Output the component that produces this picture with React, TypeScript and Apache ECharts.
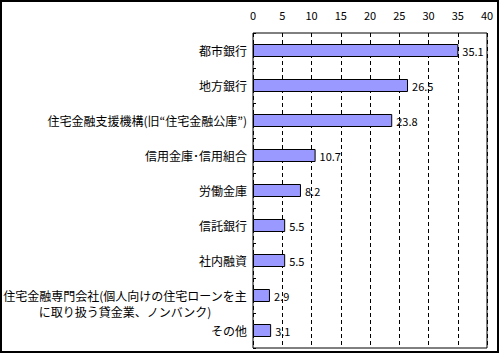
import React, { useEffect, useRef } from 'react';
import * as echarts from 'echarts';

const categories = [
  '都市銀行',
  '地方銀行',
  '住宅金融支援機構(旧“住宅金融公庫”)',
  '信用金庫･信用組合',
  '労働金庫',
  '信託銀行',
  '社内融資',
  '住宅金融専門会社(個人向けの住宅ローンを主\nに取り扱う貸金業、ノンバンク)',
  'その他',
];
const values = [35.1, 26.5, 23.8, 10.7, 8.2, 5.5, 5.5, 2.9, 3.1];
const xMin = 0;
const xMax = 40;
const xInterval = 5;

const FONT = '"Noto Sans CJK JP", "Noto Sans", sans-serif';

export default function App() {
  const ref = useRef<HTMLDivElement>(null);
  useEffect(() => {
    document.body.style.margin = '0';
    if (!ref.current) return;
    const chart = echarts.init(ref.current, null, { renderer: 'svg' });
    chart.setOption({
      animation: false,
      backgroundColor: '#ffffff',
      textStyle: { fontFamily: FONT, color: '#000' },
      grid: {
        left: 253,
        top: 33,
        width: 234,
        height: 315,
        show: true,
        borderColor: '#000',
        borderWidth: 1,
        containLabel: false,
        outerBoundsMode: 'none',
      },
      xAxis: {
        type: 'value',
        position: 'top',
        min: xMin,
        max: xMax,
        interval: xInterval,
        axisLine: { show: false },
        axisTick: { show: false },
        axisLabel: { color: '#000', fontSize: 11, margin: 13, fontFamily: FONT },
        splitLine: {
          show: true,
          lineStyle: { color: '#000', type: [4, 3], width: 1 },
        },
      },
      yAxis: {
        type: 'category',
        data: categories,
        inverse: true,
        axisLine: { show: false },
        axisTick: { show: true, inside: true, length: 3, lineStyle: { color: '#000' } },
        axisLabel: {
          color: '#000',
          fontSize: 12,
          margin: 6,
          fontFamily: FONT,
          formatter: (v: string) => {
            if (v.includes('\n')) {
              const [a, b] = v.split('\n');
              return `{e| }\n{c|${a}}\n{c|${b}}`;
            }
            return v;
          },
          rich: {
            e: { lineHeight: 16, fontSize: 12, fontFamily: FONT },
            c: { lineHeight: 16, fontSize: 12, align: 'center', fontFamily: FONT, color: '#000' },
          },
        },
        splitLine: { show: false },
      },
      series: [
        {
          type: 'bar',
          data: values,
          barWidth: 13,
          itemStyle: { color: '#9999ff', borderColor: '#000', borderWidth: 1 },
          label: {
            show: true,
            position: 'right',
            distance: 4,
            color: '#000',
            fontSize: 11,
            fontFamily: FONT,
          },
        },
      ],
      graphic: [
        {
          type: 'rect',
          shape: { x: 1, y: 1, width: 497, height: 351 },
          style: { fill: 'none', stroke: '#000', lineWidth: 2 },
          silent: true,
        },
      ],
    });
    return () => chart.dispose();
  }, []);
  return <div ref={ref} style={{ width: 500, height: 353 }} />;
}
